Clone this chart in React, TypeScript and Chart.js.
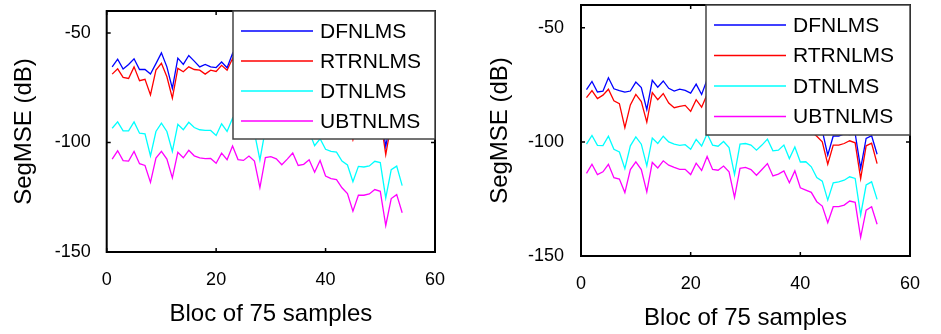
import React, { useEffect, useRef } from 'react';
import { Chart, registerables } from 'chart.js';

Chart.register(...registerables);

// ---------- data ----------
const BLOCKS = [1, 2, 3, 4, 5, 6, 7, 8, 9, 10, 11, 12, 13, 14, 15, 16, 17, 18, 19, 20, 21, 22, 23, 24, 25, 26, 27, 28, 29, 30, 31, 32, 33, 34, 35, 36, 37, 38, 39, 40, 41, 42, 43, 44, 45, 46, 47, 48, 49, 50, 51, 52, 53, 54];
const X_TICKS = [0, 20, 40, 60];
const Y_TICKS = [-150, -100, -50];
const SERIES_NAMES = ['DFNLMS', 'RTRNLMS', 'DTNLMS', 'UBTNLMS'];
const X_TITLE = 'Bloc of 75 samples';
const Y_TITLE = 'SegMSE (dB)';

// left panel
const LEFT_DFNLMS = [-65.5, -62, -66.5, -64.4, -61.8, -66.7, -66.7, -68.8, -64, -59.1, -65.5, -75.3, -61.5, -64.4, -60.3, -62.9, -65.5, -64.4, -65.5, -65.8, -63.3, -65.9, -59.4,
  -67, -67.3, -65.3, -67.5, -80, -66, -65.6, -66.5, -69.2, -66.7, -63.9, -69.5, -69, -67, -73.5, -70.3, -75.1,
  -76.5, -77, -84.5, -86.3, -95.5, -87, -87.2, -86.7, -84.6, -85.2, -101.8, -88.4, -86.8, -95.7];
const LEFT_RTRNLMS = [-68.8, -66.4, -70.3, -70.8, -65.5, -71.8, -71.2, -78.3, -67, -63.9, -70, -79.8, -66.2, -67.7, -65.5, -66.7, -67, -68.8, -67, -67.6, -64.8, -67, -61.7,
  -70, -70.3, -68.3, -70.5, -83, -69, -68.6, -69.5, -72.2, -69.7, -66.9, -72.5, -72, -70, -76.5, -73.3, -78.1,
  -79.5, -80, -87.5, -89.3, -98.8, -90, -90.2, -89.7, -87.6, -88.2, -105.6, -91.4, -89.8, -98.0];
const LEFT_DTNLMS = [-93.5, -90.6, -94.7, -94.7, -90.6, -95.8, -96.1, -106.1, -95, -91.2, -95, -104.1, -91.7, -94.2, -90.8, -93.2, -94.2, -94.5, -94.5, -96.8, -91.5, -95, -88.9,
  -95, -95.3, -93.3, -95.5, -108, -94, -93.6, -94.5, -97.2, -94.7, -91.9, -97.5, -97, -95, -101.5, -98.3, -103.1,
  -104.1, -104.4, -108.5, -110.3, -117.9, -110.9, -111.2, -110.7, -108.6, -109.2, -125.3, -112.4, -110.8, -119.7];
const LEFT_UBTNLMS = [-107.6, -103.8, -108.3, -108.5, -104.1, -109.7, -110.5, -118.2, -107.1, -104.1, -107.6, -116.2, -104.5, -107, -103.6, -106.1, -107, -107.4, -107.3, -109.5, -104.9, -107.9, -101.6,
  -107.8, -108.2, -106.2, -108.5, -120.6, -106.9, -106.5, -107.5, -110.2, -107.6, -104.8, -110.5, -110, -107.9, -113.6, -108.2, -115.3,
  -116.5, -117, -120.7, -123.3, -131.4, -124.1, -124.1, -123.5, -121.5, -122.3, -137.9, -125.6, -123.8, -132.1];

// right panel
const RIGHT_DFNLMS = [-77.1, -73.5, -78.1, -77.8, -71.9, -76.7, -77.5, -78.2, -77.7, -73.8, -76.2, -85.9, -73, -76, -73.3, -76.5, -77.7, -76.9, -77.4, -78.6, -74.7, -79.2, -72.7,
  -77.4, -77.9, -75.8, -78.5, -90.3, -77, -76.7, -77.4, -79.6, -77.4, -74.8, -79.9, -79.6, -77.4, -83.3, -78.2, -85,
  -86, -88.5, -93, -95, -105.8, -97.4, -97.4, -96.5, -96.8, -96.3, -111.6, -98.5, -97.3, -105.4];
const RIGHT_RTRNLMS = [-80.6, -77.5, -81, -79.5, -76.9, -82, -83.2, -93.8, -83.8, -79.2, -82.3, -91.3, -78.4, -81.5, -78.8, -83, -85, -84.4, -84, -86.6, -81.5, -84.8, -79.2,
  -84.4, -84.9, -82.8, -85.5, -95, -84, -83.7, -84.4, -86.6, -84.4, -81.8, -86.9, -86.6, -84.4, -90.3, -85.2, -92,
  -93, -95.5, -97.5, -100, -109.8, -101.4, -101.4, -100.7, -99.5, -100.4, -116.1, -101.7, -100.6, -109.5];
const RIGHT_DTNLMS = [-101, -97.2, -101.5, -101.6, -97.5, -103.2, -104.4, -111.7, -101.7, -97.8, -101, -110.5, -98.3, -100.7, -97.5, -100, -101, -101.5, -101.2, -103.2, -98.9, -101.8, -96.4,
  -101.4, -101.9, -99.8, -102.5, -114.3, -101, -100.7, -101.4, -103.6, -101.4, -98.8, -103.9, -103.6, -101.4, -107.3, -102.2, -108.8,
  -108.7, -110.9, -115.6, -117.2, -125.5, -117.9, -117.5, -116.8, -115.3, -116, -132, -118.9, -117.5, -125.2];
const RIGHT_UBTNLMS = [-113.8, -109.8, -114.3, -113.1, -109.8, -115.7, -116.3, -122.2, -112.1, -108.7, -112.1, -121.9, -109, -111.4, -108.3, -110.2, -111.2, -112, -112, -114.3, -109.3, -112.5, -106.4,
  -112.1, -112.4, -110.6, -113.1, -124.3, -111.6, -111.2, -112.1, -114.6, -112.1, -109.5, -114.9, -114.1, -112.7, -117.9, -112.7, -120.1,
  -121.1, -122.1, -126.2, -128.1, -135.4, -128.4, -128.4, -127.7, -125.9, -126.5, -141.8, -129.9, -128.4, -136.1];

// ---------- styles ----------
const COLORS = ['#0000ff', '#ff0000', '#00ffff', '#ff00ff'];
const FONT = '"Liberation Sans", Arial, sans-serif';

type Geo = {
  left: number; width: number; height: number;
  padTop: number; padRight: number; yWidth: number; xHeight: number;
  yTitlePad: number; xTitlePad: number; yTickPad: number; xTickPad: number;
  legendW: number; legendH: number; legendFirst: number; legendGap: number;
};

const LEFT_GEO: Geo = {
  left: 0, width: 470, height: 334, padTop: 11, padRight: 35, yWidth: 106.7, xHeight: 82,
  yTitlePad: 12, xTitlePad: 8, yTickPad: 16, xTickPad: 17,
  legendW: 202, legendH: 128, legendFirst: 20, legendGap: 30,
};
const RIGHT_GEO: Geo = {
  left: 470, width: 471, height: 334, padTop: 5, padRight: 31, yWidth: 111, xHeight: 78,
  yTitlePad: 18, xTitlePad: 4, yTickPad: 17, xTickPad: 17,
  legendW: 204, legendH: 130, legendFirst: 20, legendGap: 30.5,
};

function boxPlugin(geo: Geo) {
  return {
    id: 'matlabBox',
    afterDraw(chart: any) {
      const { ctx, chartArea } = chart;
      const { left, right, top, bottom } = chartArea;
      const xs = chart.scales.x;
      const ys = chart.scales.y;
      ctx.save();
      ctx.strokeStyle = '#000';
      ctx.lineWidth = 2;
      ctx.strokeRect(left, top, right - left, bottom - top);
      ctx.lineWidth = 1.5;
      const tl = 4;
      ctx.beginPath();
      X_TICKS.forEach((v) => {
        const px = xs.getPixelForValue(v);
        ctx.moveTo(px, bottom); ctx.lineTo(px, bottom - tl);
        ctx.moveTo(px, top); ctx.lineTo(px, top + tl);
      });
      Y_TICKS.forEach((v) => {
        const py = ys.getPixelForValue(v);
        ctx.moveTo(left, py); ctx.lineTo(left + tl, py);
        ctx.moveTo(right, py); ctx.lineTo(right - tl, py);
      });
      ctx.stroke();

      // legend (top-right, over the data)
      const lx = right - geo.legendW;
      const ly = top;
      ctx.fillStyle = '#fff';
      ctx.fillRect(lx, ly, geo.legendW, geo.legendH);
      ctx.strokeStyle = '#444';
      ctx.lineWidth = 1.5;
      ctx.strokeRect(lx, ly, geo.legendW, geo.legendH);
      ctx.font = `21px ${FONT}`;
      ctx.textBaseline = 'middle';
      ctx.textAlign = 'left';
      chart.data.datasets.forEach((ds: any, k: number) => {
        const cy = ly + geo.legendFirst + k * geo.legendGap;
        ctx.strokeStyle = ds.borderColor;
        ctx.lineWidth = 1.3;
        ctx.beginPath();
        ctx.moveTo(lx + 8, cy);
        ctx.lineTo(lx + 80, cy);
        ctx.stroke();
        ctx.fillStyle = '#000';
        ctx.fillText(ds.label, lx + 87, cy + 1);
      });
      ctx.restore();
    },
  };
}

function Panel({ series, geo }: { series: number[][]; geo: Geo }) {
  const ref = useRef<HTMLCanvasElement | null>(null);
  useEffect(() => {
    if (!ref.current) return;
    const datasets = SERIES_NAMES.map((name, k) => ({
      label: name,
      data: BLOCKS.map((b, i) => ({ x: b, y: series[k][i] })),
      borderColor: COLORS[k],
      backgroundColor: COLORS[k],
      borderWidth: 1.3,
      pointRadius: 0,
      fill: false,
      tension: 0,
    }));
    const chart = new Chart(ref.current, {
      type: 'line',
      data: { datasets },
      options: {
        animation: false,
        responsive: false,
        devicePixelRatio: 1,
        layout: { padding: { left: 0, right: geo.padRight, top: geo.padTop, bottom: 0 } },
        plugins: { legend: { display: false }, tooltip: { enabled: false } },
        scales: {
          x: {
            type: 'linear',
            min: 0,
            max: 60,
            grid: { display: false, drawTicks: false },
            border: { display: false },
            afterBuildTicks: (s: any) => { s.ticks = X_TICKS.map((v) => ({ value: v })); },
            afterFit: (s: any) => { s.height = geo.xHeight; s.paddingLeft = 0; s.paddingRight = 0; s.paddingTop = 0; s.paddingBottom = 0; },
            ticks: { color: '#000', font: { family: FONT, size: 18 }, padding: geo.xTickPad, autoSkip: false, maxRotation: 0 },
            title: { display: true, text: X_TITLE, color: '#000', font: { family: FONT, size: 24, lineHeight: 1 }, padding: { top: 0, bottom: geo.xTitlePad } },
          },
          y: {
            type: 'linear',
            min: -150,
            max: -40,
            grid: { display: false, drawTicks: false },
            border: { display: false },
            afterBuildTicks: (s: any) => { s.ticks = Y_TICKS.map((v) => ({ value: v })); },
            afterFit: (s: any) => { s.width = geo.yWidth; s.paddingLeft = 0; s.paddingRight = 0; s.paddingTop = 0; s.paddingBottom = 0; },
            ticks: { color: '#000', font: { family: FONT, size: 18 }, padding: geo.yTickPad, autoSkip: false },
            title: { display: true, text: Y_TITLE, color: '#000', font: { family: FONT, size: 24, lineHeight: 1 }, padding: { top: geo.yTitlePad, bottom: 0 } },
          },
        },
      },
      plugins: [boxPlugin(geo)],
    } as any);
    return () => chart.destroy();
  }, [series, geo]);
  return (
    <canvas
      ref={ref}
      width={geo.width}
      height={geo.height}
      style={{ position: 'absolute', left: geo.left, top: 0, width: geo.width, height: geo.height }}
    />
  );
}

const LEFT_SERIES = [LEFT_DFNLMS, LEFT_RTRNLMS, LEFT_DTNLMS, LEFT_UBTNLMS];
const RIGHT_SERIES = [RIGHT_DFNLMS, RIGHT_RTRNLMS, RIGHT_DTNLMS, RIGHT_UBTNLMS];

export default function App() {
  return (
    <div style={{ position: 'fixed', left: 0, top: 0, width: 941, height: 334, background: '#fff', overflow: 'hidden' }}>
      <Panel series={LEFT_SERIES} geo={LEFT_GEO} />
      <Panel series={RIGHT_SERIES} geo={RIGHT_GEO} />
    </div>
  );
}
